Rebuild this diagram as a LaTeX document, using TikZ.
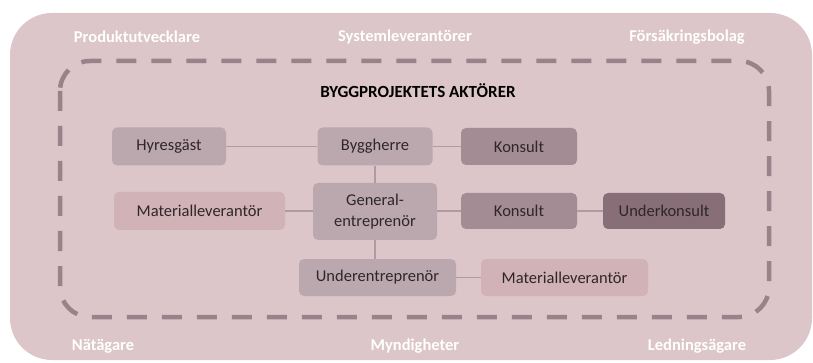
\documentclass[tikz,border=0pt]{standalone}
\usepackage{fontspec}
\setmainfont{Carlito}
\definecolor{bgpink}{HTML}{DCC6C9}
\definecolor{boxgray}{HTML}{BBA8AF}
\definecolor{boxkons}{HTML}{A38C94}
\definecolor{boxunder}{HTML}{876E77}
\definecolor{boxmat}{HTML}{D1B2B6}
\definecolor{dashc}{HTML}{9B828A}
\definecolor{connc}{HTML}{B09BA1}
\definecolor{textc}{HTML}{2E2628}
\begin{document}
\begin{tikzpicture}[x=1pt,y=-1pt,
  actor/.style={rounded corners=5pt, inner sep=0pt, align=center,
    font=\fontsize{16.5}{21}\selectfont, text=textc, minimum height=37pt},
  outerlbl/.style={font=\fontsize{16.5}{20}\selectfont\bfseries, text=white, inner sep=0pt},
  conn/.style={draw=connc, line width=1.3pt},
  dashline/.style={draw=dashc, line width=4.5pt, dash pattern=on 20pt off 15pt, rounded corners=30pt}
]
\useasboundingbox (0,0) rectangle (813,363);
\fill[bgpink, rounded corners=42pt] (10,13) rectangle (812,360);
\draw[dashline] (60,61) rectangle (769,317);

% outer labels
\node[outerlbl] (prod) at (137,37) {Produktutvecklare};
\node[outerlbl] (syst) at (405,37) {Systemleverantörer};
\node[outerlbl] (fors) at (687,37) {Försäkringsbolag};
\node[outerlbl] (nat)  at (103,346) {Nätägare};
\node[outerlbl] (mynd) at (415,346) {Myndigheter};
\node[outerlbl] (ledn) at (697,346) {Ledningsägare};

\node[font=\fontsize{17}{20}\selectfont\bfseries, text=black, inner sep=0pt] (title) at (418,91) {BYGGPROJEKTETS AKTÖRER};

% actors
\node[actor, fill=boxgray, minimum width=114pt, minimum height=38pt] (hyr) at (169,146.5) {Hyresgäst};
\node[actor, fill=boxgray, minimum width=115pt, minimum height=38pt] (byg) at (375,146.5) {Byggherre};
\node[actor, fill=boxkons, minimum width=116pt] (kon1) at (519,146.5) {Konsult};
\node[actor, fill=boxmat, minimum width=171pt, minimum height=38pt] (mat1) at (199.5,211) {Materialleverantör};
\node[actor, fill=boxgray, minimum width=124pt, minimum height=57pt] (gen) at (375,211.5) {General-\\entreprenör};
\node[actor, fill=boxkons, minimum width=116pt, minimum height=36pt] (kon2) at (519,211) {Konsult};
\node[actor, fill=boxunder, minimum width=122pt, minimum height=36pt] (ukon) at (664,211) {Underkonsult};
\node[actor, fill=boxgray, minimum width=157pt] (ue) at (377.5,277.5) {Underentreprenör};
\node[actor, fill=boxmat, minimum width=167pt] (mat2) at (564.5,277.5) {Materialleverantör};

% connectors
\draw[conn] (hyr) -- (byg);
\draw[conn] (byg) -- (kon1);
\draw[conn] (byg) -- (gen);
\draw[conn] (mat1.east) -- (mat1.east -| gen.west);
\draw[conn] (gen.east |- kon2.west) -- (kon2.west);
\draw[conn] (kon2) -- (ukon);
\draw[conn] (gen.south) -- (gen.south |- ue.north);
\draw[conn] (ue) -- (mat2);
\end{tikzpicture}
\end{document}
